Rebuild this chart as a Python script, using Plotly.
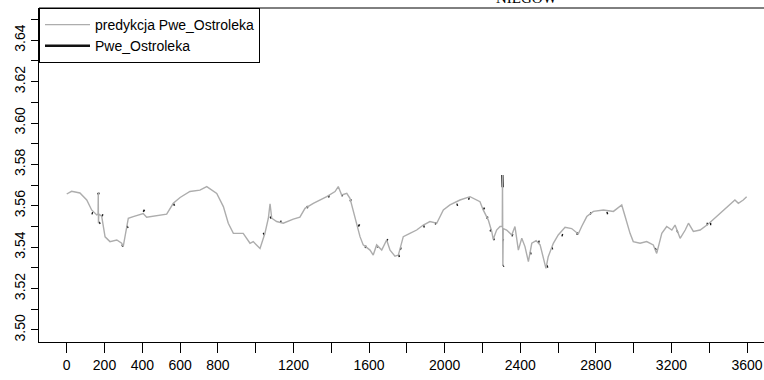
import plotly.graph_objects as go

# ---- data ----
pred_t = [0, 26, 70, 106, 132, 159, 166, 167, 168, 170, 185, 203, 229, 265, 291, 299, 318, 326, 352, 405,
          423, 494, 529, 564, 600, 652, 705, 741, 794, 829, 855, 882, 934, 970, 987, 1023, 1049, 1067, 1076, 1085,
          1111, 1146, 1199, 1234, 1261, 1305, 1376, 1420, 1437, 1455, 1482, 1499, 1516, 1534, 1552, 1569, 1605, 1622,
          1640, 1667, 1693, 1711, 1737, 1755, 1781, 1816, 1852, 1887, 1922, 1958, 1993, 2028, 2081, 2134, 2187, 2204,
          2231, 2249, 2257, 2275, 2293, 2305, 2306, 2308, 2310, 2328, 2355, 2372, 2390, 2408, 2425, 2443, 2461, 2484,
          2505, 2522, 2536, 2548, 2575, 2601, 2637, 2672, 2707, 2725, 2752, 2787, 2840, 2893, 2937, 2955, 2981, 2998,
          3034, 3069, 3104, 3122, 3149, 3175, 3202, 3219, 3246, 3273, 3290, 3316, 3352, 3395, 3439, 3474, 3510, 3536,
          3554, 3580, 3598]
pred_v = [3.5657, 3.5670, 3.5662, 3.5628, 3.5580, 3.5556, 3.5560, 3.5663, 3.5516, 3.5560, 3.5550, 3.5450, 3.5427,
          3.5435, 3.5419, 3.5403, 3.5500, 3.5540, 3.5548, 3.5563, 3.5545, 3.5556, 3.5560, 3.5612, 3.5640, 3.5669,
          3.5676, 3.5693, 3.5660, 3.5596, 3.5516, 3.5467, 3.5467, 3.5419, 3.5427, 3.5394, 3.5467, 3.5540, 3.5610,
          3.5540, 3.5524, 3.5516, 3.5536, 3.5545, 3.5588, 3.5612, 3.5644, 3.5669, 3.5693, 3.5652, 3.5660, 3.5636,
          3.5580, 3.5516, 3.5451, 3.5411, 3.5386, 3.5362, 3.5411, 3.5386, 3.5435, 3.5386, 3.5357, 3.5362, 3.5451,
          3.5467, 3.5483, 3.5507, 3.5524, 3.5516, 3.5580, 3.5604, 3.5628, 3.5644, 3.5620, 3.5580, 3.5531, 3.5476,
          3.5438, 3.5483, 3.5500, 3.5500, 3.5749, 3.5309, 3.5490, 3.5483, 3.5459, 3.5500, 3.5386, 3.5443, 3.5403,
          3.5330, 3.5419, 3.5432, 3.5411, 3.5354, 3.5298, 3.5354, 3.5419, 3.5459, 3.5496, 3.5490, 3.5464, 3.5500,
          3.5548, 3.5573, 3.5580, 3.5573, 3.5604, 3.5548, 3.5467, 3.5427, 3.5419, 3.5427, 3.5411, 3.5370, 3.5467,
          3.5500, 3.5483, 3.5507, 3.5443, 3.5483, 3.5516, 3.5476, 3.5483, 3.5512, 3.5548, 3.5573, 3.5604, 3.5628,
          3.5612, 3.5628, 3.5644]

obs_t = [132, 139, None, 167, 168, None, 171, 177, None, 185, 192, None, 291, 298, None, 318, 325, None, 405, 412,
         None, 564, 571, None, 1040, 1047, None, 1076, 1083, None, 1129, 1136, None, 1270, 1277, None, 1384, 1391,
         None, 1455, 1462, None, 1499, 1506, None, 1543, 1550, None, 1578, 1585, None, 1640, 1647, None, 1693, 1700,
         None, 1755, 1762, None, 1764, 1771, None, 1887, 1894, None, 1949, 1956, None, 2063, 2070, None, 2125, 2132,
         None, 2204, 2211, None, 2222, 2229, None, 2240, 2247, None, 2257, 2264, None, 2305, 2306, 2307, None,
         2307, 2312, None, 2308, 2313, None, 2355, 2362, None, 2452, 2459, None, 2495, 2502, None, 2540, 2547, None,
         2566, 2573, None, 2619, 2626, None, 2698, 2705, None, 2769, 2776, None, 2857, 2864, None, 3113, 3120, None,
         3228, 3235, None, 3386, 3393, None, 3404, 3411]
obs_v = [3.5565, 3.5563, None, 3.5663, 3.5655, None, 3.5516, 3.5520, None, 3.5556, 3.5552, None, 3.5406, 3.5408,
         None, 3.5496, 3.5500, None, 3.5578, 3.5574, None, 3.5604, 3.5608, None, 3.5462, 3.5466, None, 3.5541,
         3.5545, None, 3.5524, 3.5522, None, 3.5593, 3.5595, None, 3.5647, 3.5645, None, 3.5652, 3.5650, None,
         3.5628, 3.5624, None, 3.5507, 3.5503, None, 3.5403, 3.5401, None, 3.5403, 3.5405, None, 3.5435, 3.5433,
         None, 3.5357, 3.5359, None, 3.5394, 3.5392, None, 3.5500, 3.5502, None, 3.5516, 3.5514, None, 3.5604,
         3.5606, None, 3.5636, 3.5634, None, 3.5588, 3.5584, None, 3.5545, 3.5541, None, 3.5483, 3.5479, None,
         3.5438, 3.5440, None, 3.5749, 3.5720, 3.5690, None, 3.5435, 3.5433, None, 3.5309, 3.5312, None, 3.5459,
         3.5457, None, 3.5370, 3.5372, None, 3.5427, 3.5425, None, 3.5306, 3.5308, None, 3.5394, 3.5396, None,
         3.5459, 3.5457, None, 3.5467, 3.5465, None, 3.5564, 3.5562, None, 3.5564, 3.5566, None, 3.5390, 3.5392,
         None, 3.5475, 3.5477, None, 3.5512, 3.5512, None, 3.5512, 3.5512]

x_tickvals = [0, 200, 400, 600, 800, 1000, 1200, 1400, 1600, 1800, 2000, 2200, 2400, 2600, 2800, 3000, 3200, 3400, 3600]
x_ticktext = ["0", "200", "400", "600", "800", "", "1200", "", "1600", "", "2000", "", "2400", "", "2800", "", "3200", "", "3600"]
y_tickvals = [3.50, 3.52, 3.54, 3.56, 3.58, 3.60, 3.62, 3.64]
y_ticktext = ["3.50", "3.52", "3.54", "3.56", "3.58", "3.60", "3.62", "3.64"]

series_names = ["predykcja Pwe_Ostroleka", "Pwe_Ostroleka"]

FONT = "Liberation Sans, Arial, sans-serif"

fig = go.Figure()
fig.add_trace(go.Scatter(x=obs_t, y=obs_v, name=series_names[1], mode="lines",
                         line=dict(color="#111111", width=2.4), connectgaps=False))
fig.add_trace(go.Scatter(x=pred_t, y=pred_v, name=series_names[0], mode="lines",
                         line=dict(color="#adadad", width=1.4)))

fig.update_layout(
    width=764, height=380,
    margin=dict(l=39, r=0, t=8, b=38),
    paper_bgcolor="white", plot_bgcolor="white",
    font=dict(family=FONT, size=14, color="black"),
    showlegend=True,
    legend=dict(x=0, y=1, xanchor="left", yanchor="top", bgcolor="white",
                bordercolor="black", borderwidth=1, traceorder="reversed",
                font=dict(family=FONT, size=14), itemwidth=45,
                tracegroupgap=0),
    xaxis=dict(range=[-146.6, 3689.8], showgrid=False, zeroline=False,
               showline=True, linecolor="black", linewidth=1,
               ticks="outside", ticklen=10, tickcolor="black",
               tickvals=x_tickvals, ticktext=x_ticktext,
               tickfont=dict(family=FONT, size=14)),
    yaxis=dict(range=[3.4942, 3.65556], showgrid=False, zeroline=False,
               showline=True, linecolor="black", linewidth=1,
               ticks="outside", ticklen=7, tickcolor="black",
               tickvals=y_tickvals, ticktext=y_ticktext, tickangle=-90,
               tickfont=dict(family=FONT, size=14),
               minor=dict(dtick=0.01, tick0=3.50, ticks="outside", ticklen=7, tickcolor="black")),
    shapes=[dict(type="line", xref="paper", yref="paper", x0=0, x1=1, y0=1, y1=1,
                 line=dict(color="black", width=1))],
)

# cut-off title fragment at the very top (reference shows only its lower edge)
for txt, xp in [("NIEGOW", 527)]:
    fig.add_annotation(text=txt, xref="paper", yref="paper", x=(xp - 39) / 725, y=1,
                       xanchor="center", yanchor="bottom", yshift=0, showarrow=False,
                       font=dict(family="Liberation Serif, Times New Roman, serif", size=15, color="black"))

fig.write_html("out.html")
